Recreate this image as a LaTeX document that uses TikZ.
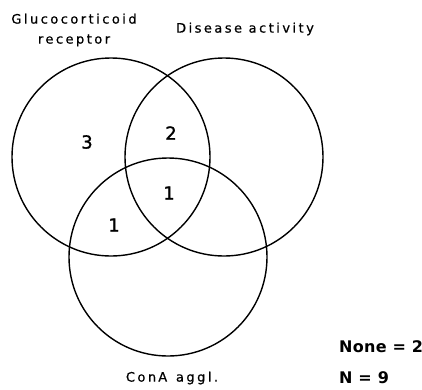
\documentclass[tikz,border=0pt]{standalone}
\usepackage{fontspec}
\setmainfont{DejaVu Sans}
\newfontfamily\lblfont[LetterSpace=19,FakeBold=0.6]{DejaVu Sans}
\newfontfamily\numfont[LetterSpace=4,FakeBold=1.2]{DejaVu Sans}
\newfontfamily\totfont[LetterSpace=2]{DejaVu Sans}
\begin{document}
\begin{tikzpicture}[x=1pt,y=-1pt,
  setcircle/.style={circle,draw,line width=1.4pt,minimum size=198pt,inner sep=0pt},
  lbl/.style={font=\lblfont\fontsize{13}{20}\selectfont,align=center,inner sep=0pt},
  num/.style={font=\numfont\fontsize{18}{20}\selectfont,inner sep=0pt},
  tot/.style={font=\totfont\bfseries\fontsize{16}{19}\selectfont,inner sep=0pt,anchor=west}]
\useasboundingbox (0,0) rectangle (422,389);
\node[setcircle] (gr) at (111,157) {};
\node[setcircle] (da) at (224,157) {};
\node[setcircle] (ca) at (168,257) {};
\node[lbl] (grl) at (74,30) {Glucocorticoid\\receptor};
\node[lbl] (dal) at (245,29) {Disease activity};
\node[lbl] (cal) at (172,378) {Con\,A\, aggl.};
\node[num] (n3) at (87,142) {3};
\node[num] (n2) at (171,133) {2};
\node[num] (n1a) at (169,193) {1};
\node[num] (n1b) at (114,225) {1};
\node[tot] (none) at (339,347) {None = 2};
\node[tot] (nn) at (339,378) {N = 9};
\end{tikzpicture}
\end{document}
